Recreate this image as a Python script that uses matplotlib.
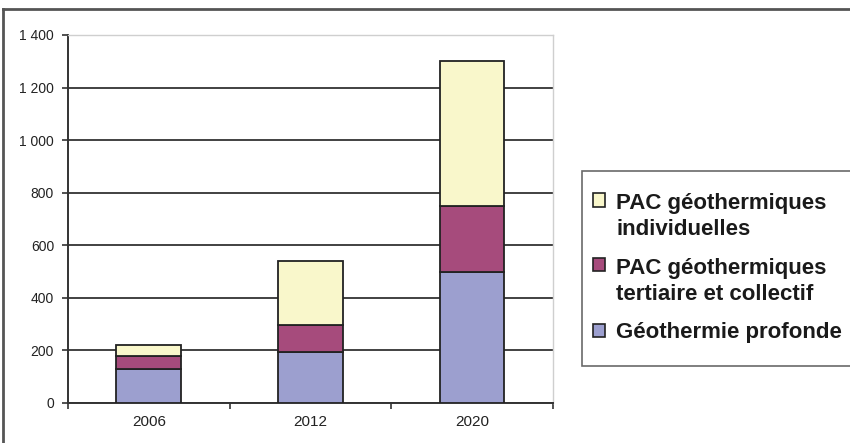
#!/usr/bin/env python3
# -*- coding: utf-8 -*-

"""Géothermie: stacked bars 2006 / 2012 / 2020."""

import matplotlib
matplotlib.use("Agg")
import matplotlib.pyplot as plt
import matplotlib.patches as mpatches
from matplotlib.legend_handler import HandlerPatch
from matplotlib.lines import Line2D


# ---------- Data ----------
years = ["2006", "2012", "2020"]
geo_profonde = [130, 195, 500]
pac_tertiaire = [50, 100, 250]
pac_individuelles = [40, 245, 550]

series_labels = [
    "Géothermie profonde",
    "PAC géothermiques\ntertiaire et collectif",
    "PAC géothermiques\nindividuelles",
]
y_ticks = [0, 200, 400, 600, 800, 1000, 1200, 1400]

# ---------- Style ----------
COL_BLUE = "#9c9fcf"
COL_MAGENTA = "#a64b7c"
COL_YELLOW = "#f9f7cb"
EDGE = "#222222"
LINESP = 1.3

plt.rcParams["font.family"] = ["Liberation Sans", "DejaVu Sans"]

fig = plt.figure(figsize=(8.5, 4.43), dpi=100)
ax = fig.add_axes([68 / 850, 40 / 443, (553 - 68) / 850, (403 - 35) / 443])

x = list(range(len(years)))
w = 0.4
bottoms2 = [a for a in geo_profonde]
bottoms3 = [a + b for a, b in zip(geo_profonde, pac_tertiaire)]

ax.bar(x, geo_profonde, w, color=COL_BLUE, edgecolor=EDGE, lw=1.3, zorder=3)
ax.bar(x, pac_tertiaire, w, bottom=bottoms2, color=COL_MAGENTA,
       edgecolor=EDGE, lw=1.3, zorder=3)
ax.bar(x, pac_individuelles, w, bottom=bottoms3, color=COL_YELLOW,
       edgecolor=EDGE, lw=1.3, zorder=3)

# axes
ax.set_xlim(-0.5, len(years) - 0.5)
ax.set_ylim(0, 1400)
ax.set_yticks(y_ticks)
ax.set_yticklabels([f"{v:,}".replace(",", " ") for v in y_ticks])
ax.yaxis.grid(True, color="#333333", lw=1.3, zorder=0)
ax.set_axisbelow(True)

ax.set_xticks([i - 0.5 for i in range(len(years) + 1)])
ax.set_xticklabels([])
ax.set_xticks(x, minor=True)
ax.set_xticklabels(years, minor=True)
ax.tick_params(axis="x", which="major", direction="out", length=4,
               width=1.2, color="#333333")
ax.tick_params(axis="x", which="minor", length=0, pad=9,
               labelsize=11, labelcolor="#222222")
ax.tick_params(axis="y", direction="out", length=4, width=1.2,
               color="#333333", pad=6, labelsize=10, labelcolor="#222222")

for side in ("left", "bottom"):
    ax.spines[side].set_color("#333333")
    ax.spines[side].set_linewidth(1.4)
for side in ("top", "right"):
    ax.spines[side].set_color("#cfcfcf")
    ax.spines[side].set_linewidth(1.0)

# outer frame (left and top; the rest is cut off)
fig.add_artist(Line2D([3 / 850, 3 / 850], [0, 1 - 9 / 443],
                      transform=fig.transFigure, color="#555555", lw=2))
fig.add_artist(Line2D([3 / 850, 1], [1 - 9 / 443, 1 - 9 / 443],
                      transform=fig.transFigure, color="#555555", lw=2))


# ---------- Legend ----------
def square_first_line(legend, orig_handle, xdescent, ydescent, width, height, fontsize):
    # square sits next to the first line of a multi-line label
    nlines = orig_handle.get_label().count("\n") + 1
    shift = (nlines - 1) * 0.5 * LINESP * 1.15 * fontsize
    return mpatches.Rectangle((-xdescent - 8, -ydescent + shift), width, height)


colors = [COL_BLUE, COL_MAGENTA, COL_YELLOW]
handles = [mpatches.Rectangle((0, 0), 1, 1, facecolor=c, edgecolor=EDGE,
                              lw=1.2, label=lab)
           for c, lab in zip(colors, series_labels)][::-1]
leg = fig.legend(
    handles=handles,
    loc="upper left", bbox_to_anchor=(582 / 850, 1 - 171 / 443, 0.4, 0),
    mode="expand", borderaxespad=0, borderpad=1.0,
    handlelength=0.55, handleheight=0.55, handletextpad=0.0,
    labelspacing=0.8, fancybox=False, edgecolor="#444444",
    prop={"size": 16, "weight": "bold"},
    handler_map={mpatches.Rectangle: HandlerPatch(patch_func=square_first_line)},
)
leg.get_frame().set_linewidth(1.2)
for t in leg.get_texts():
    t.set_color("#1a1a1a")
    t.set_linespacing(LINESP)

fig.savefig("out.png", dpi=100)
